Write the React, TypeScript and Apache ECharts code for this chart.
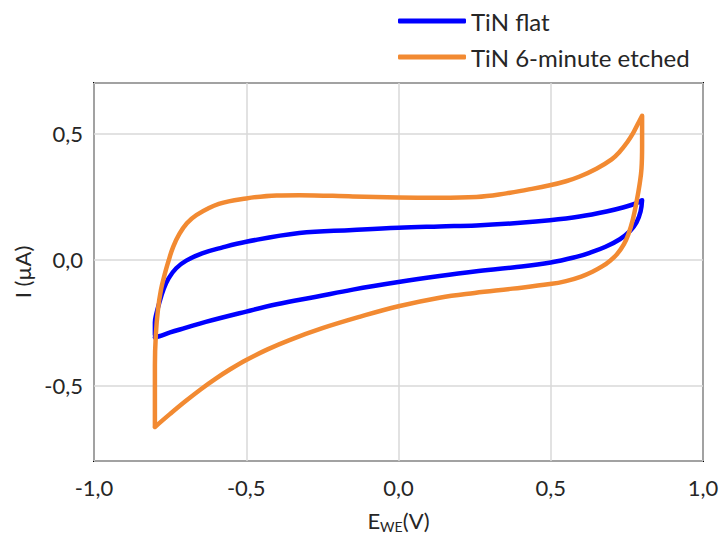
import React, { useEffect, useRef } from "react";
import * as echarts from "echarts";

const seriesNames = ["TiN flat", "TiN 6-minute etched"];

const flatE = [
  -0.8, -0.786, -0.75, -0.7, -0.633, -0.5, -0.4, -0.27, -0.15, 0.0, 0.135, 0.25, 0.375, 0.5, 0.59, 0.628, 0.68, 0.727, 0.76, 0.782, 0.795, 0.8,
  0.78, 0.74, 0.683, 0.595, 0.497, 0.4, 0.256, 0.135, 0.0, -0.15, -0.326, -0.5, -0.58, -0.645, -0.697, -0.73, -0.755, -0.772, -0.785, -0.795, -0.8, -0.8,
];
const flatI = [
  -0.31, -0.305, -0.29, -0.272, -0.248, -0.207, -0.178, -0.148, -0.12, -0.09, -0.066, -0.048, -0.032, -0.012, 0.012, 0.026, 0.05, 0.08, 0.112, 0.148, 0.19, 0.235,
  0.222, 0.207, 0.19, 0.17, 0.155, 0.145, 0.135, 0.131, 0.126, 0.117, 0.105, 0.07, 0.047, 0.024, -0.005, -0.035, -0.075, -0.12, -0.17, -0.215, -0.25, -0.3,
];

const etchedE = [
  -0.8, -0.75, -0.7, -0.65, -0.6, -0.55, -0.5, -0.43, -0.36, -0.25, -0.128, 0.0, 0.135, 0.25, 0.375, 0.497, 0.55, 0.6, 0.64, 0.67, 0.695, 0.717, 0.74, 0.755, 0.77, 0.782, 0.792, 0.798, 0.8, 0.8,
  0.785, 0.77, 0.75, 0.727, 0.7, 0.65, 0.595, 0.55, 0.497, 0.42, 0.354, 0.256, 0.135, 0.0, -0.15, -0.326, -0.4, -0.5, -0.59, -0.665, -0.695, -0.72, -0.74, -0.755, -0.768, -0.78, -0.79, -0.797, -0.8, -0.8,
];
const etchedI = [
  -0.665, -0.613, -0.563, -0.516, -0.473, -0.434, -0.399, -0.357, -0.321, -0.273, -0.228, -0.186, -0.152, -0.133, -0.116, -0.098, -0.086, -0.068, -0.047, -0.027, -0.005, 0.02, 0.06, 0.1, 0.16, 0.23, 0.3, 0.36, 0.45, 0.57,
  0.535, 0.5, 0.463, 0.428, 0.397, 0.36, 0.329, 0.31, 0.294, 0.276, 0.262, 0.248, 0.245, 0.246, 0.25, 0.255, 0.254, 0.242, 0.22, 0.175, 0.143, 0.1, 0.05, -0.005, -0.06, -0.12, -0.2, -0.3, -0.42, -0.665,
];

const xTicks = [-1, -0.5, 0, 0.5, 1];
const yTicks = [-0.5, 0, 0.5];

const FONT = "Lato, sans-serif";
const TEXT = "#262626";
const FS = 22;

function fmt(v: number): string {
  const r = Math.round(v * 10) / 10;
  const s = (r === 0 ? 0 : r).toFixed(1);
  return s.replace(".", ",");
}

export default function App() {
  const ref = useRef<HTMLDivElement>(null);
  useEffect(() => {
    if (!ref.current) return;
    const chart = echarts.init(ref.current, null, { renderer: "svg" });
    const zip = (xs: number[], ys: number[]) => xs.map((x, i) => [x, ys[i]]);
    chart.setOption({
      animation: false,
      backgroundColor: "#fff",
      grid: {
        left: 94,
        right: 20,
        top: 83,
        bottom: 75,
        show: true,
        borderColor: "#000",
        borderWidth: 2,
        backgroundColor: "transparent",
      },
      legend: {
        orient: "vertical",
        left: 398,
        top: 8,
        padding: 0,
        itemWidth: 68,
        itemHeight: 5,
        itemGap: 10,
        icon: "roundRect",
        textStyle: { fontFamily: FONT, fontSize: 24, color: TEXT, lineHeight: 26 },
        data: seriesNames,
      },
      xAxis: {
        type: "value",
        min: -1,
        max: 1,
        interval: 0.5,
        axisLine: { show: false },
        axisTick: { show: false },
        splitLine: { show: true, lineStyle: { color: "#d9d9d9", width: 1.5 } },
        axisLabel: {
          margin: 15,
          fontFamily: FONT,
          fontSize: FS,
          color: TEXT,
          formatter: (v: number) => (xTicks.some((t) => Math.abs(t - v) < 1e-6) ? fmt(v) : ""),
        },
        name: "{a|E}{b|WE}{a|(V)}",
        nameLocation: "middle",
        nameGap: 45,
        nameTextStyle: {
          rich: {
            a: { fontFamily: FONT, fontSize: FS, color: TEXT, lineHeight: 28 },
            b: { fontFamily: FONT, fontSize: 14, color: TEXT, padding: [12, 0, 0, 0], lineHeight: 28 },
          },
        },
      },
      yAxis: {
        type: "value",
        min: -0.8,
        max: 0.7,
        splitNumber: 3,
        axisLine: { show: false },
        axisTick: { show: false },
        splitLine: { show: true, lineStyle: { color: "#d9d9d9", width: 1.5 } },
        axisLabel: {
          margin: 11,
          fontFamily: FONT,
          fontSize: FS,
          color: TEXT,
          formatter: (v: number) => (yTicks.some((t) => Math.abs(t - v) < 1e-6) ? fmt(v) : ""),
        },
        name: "I (µA)",
        nameLocation: "middle",
        nameGap: 58,
        nameRotate: 90,
        nameTextStyle: { fontFamily: FONT, fontSize: FS, color: TEXT },
      },
      series: [
        {
          name: seriesNames[0],
          type: "line",
          data: zip(flatE, flatI),
          showSymbol: false,
          symbol: "none",
          smooth: 0.4,
          lineStyle: { color: "#0000ff", width: 4.5, cap: "round", join: "round" },
          itemStyle: { color: "#0000ff" },
          z: 2,
        },
        {
          name: seriesNames[1],
          type: "line",
          data: zip(etchedE, etchedI),
          showSymbol: false,
          symbol: "none",
          smooth: 0.4,
          lineStyle: { color: "#f28a32", width: 4.5, cap: "round", join: "round" },
          itemStyle: { color: "#f28a32" },
          z: 3,
        },
      ],
    });
    return () => chart.dispose();
  }, []);
  return (
    <div
      ref={ref}
      style={{ position: "absolute", left: 0, top: 0, width: 723, height: 538 }}
    />
  );
}
